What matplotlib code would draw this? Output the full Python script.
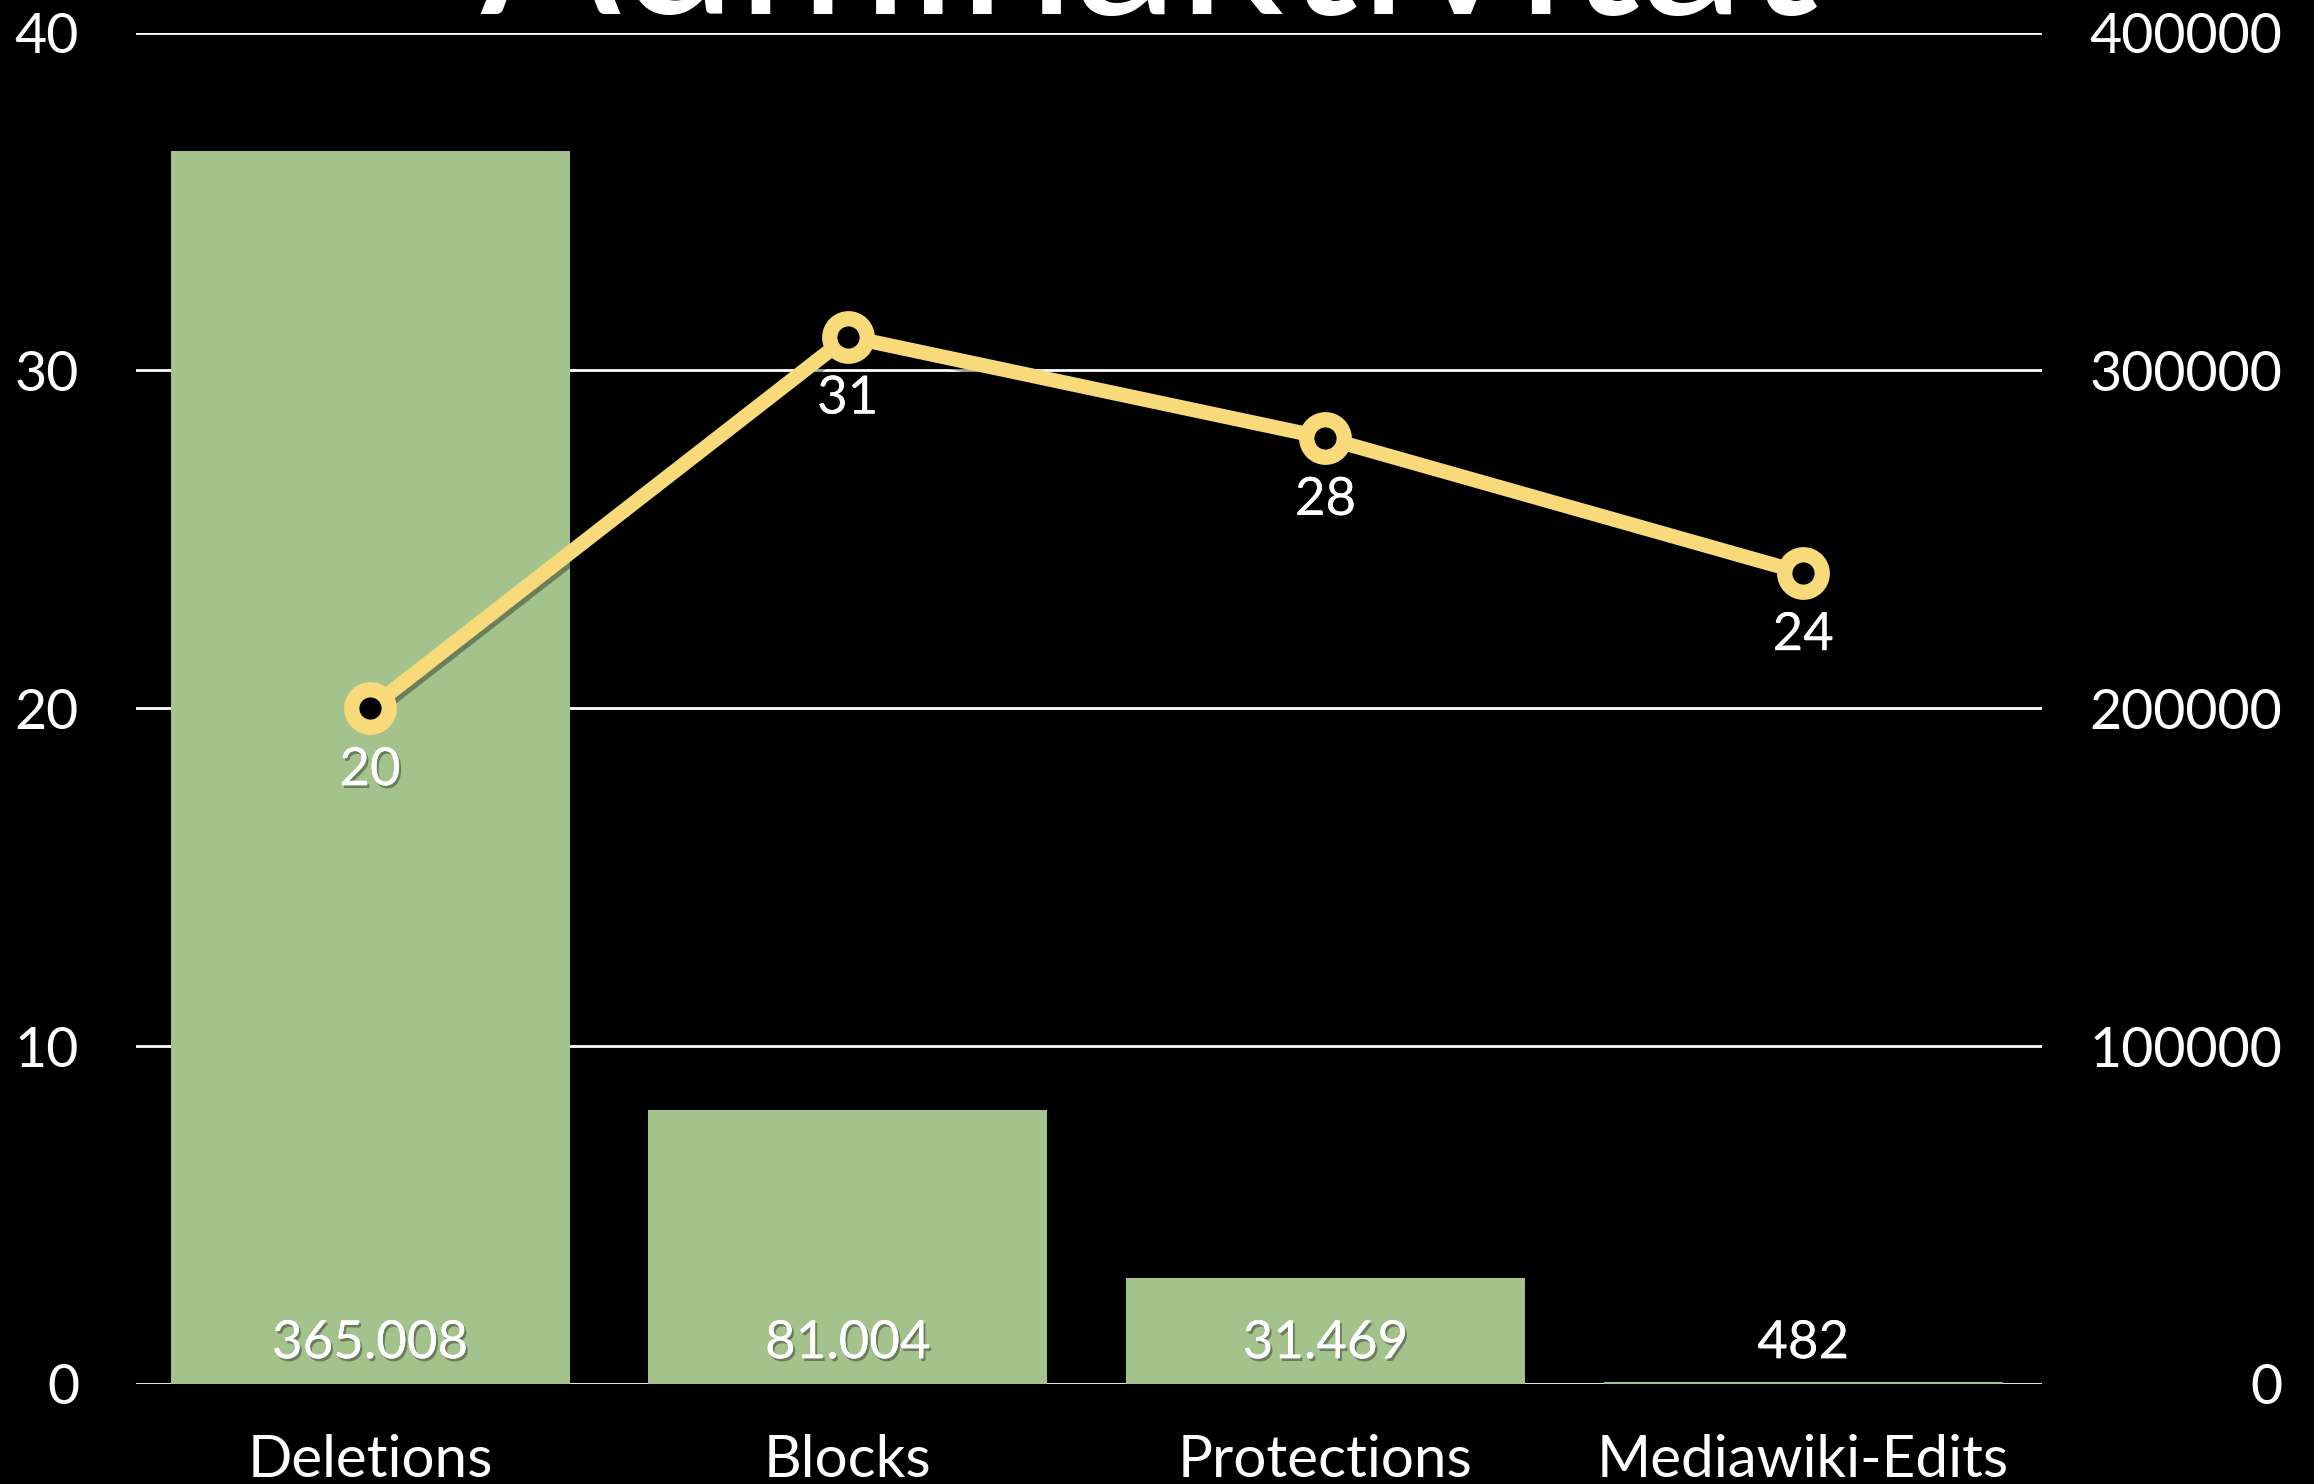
import matplotlib
matplotlib.use("Agg")
import matplotlib.pyplot as plt
import matplotlib.patheffects as pe

categories = ["Deletions", "Blocks", "Protections", "Mediawiki-Edits"]
bar_values = [365008, 81004, 31469, 482]
line_values = [20, 31, 28, 24]
left_ticks = [0, 10, 20, 30, 40]
right_ticks = [0, 100000, 200000, 300000, 400000]
title = "Adminaktivität"

BAR_COLOR = "#A4C28C"
LINE_COLOR = "#F8DA7A"
FONT = ["Lato", "DejaVu Sans"]
plt.rcParams["font.family"] = FONT

W, H = 2314, 1484
fig = plt.figure(figsize=(W / 100, H / 100), dpi=100, facecolor="black")
ax = fig.add_axes([136 / W, 1 - 1384 / H, (2042 - 136) / W, (1384 - 32.5) / H])
ax.set_facecolor("black")
ax2 = ax.twinx()

x = list(range(len(categories)))
lshadow = [pe.SimpleLineShadow(offset=(2, -3), shadow_color="black", alpha=0.35), pe.Normal()]
tshadow = [pe.withSimplePatchShadow(offset=(1.5, -2), shadow_rgbFace="black", alpha=0.35), pe.Normal()]

# bars on right axis
ax.bar(x, bar_values, width=0.835, color=BAR_COLOR, zorder=2)
ax.set_ylim(0, 400000)
ax.set_xlim(-0.49, 3.5)
ax.yaxis.tick_right()
ax.set_yticks(right_ticks)
ax.set_yticklabels([str(t) for t in right_ticks], ha="right")
ax.tick_params(axis="y", length=0, pad=173, labelsize=40, colors="white")
ax.set_xticks(x)
ax.set_xticklabels(categories)
ax.tick_params(axis="x", length=0, pad=36, labelsize=42, colors="white")
ax.grid(axis="y", color="white", linewidth=2, zorder=1)
ax.set_axisbelow(True)
for s in ax.spines.values():
    s.set_visible(False)

for xi, v in zip(x, bar_values):
    ax.annotate(f"{v:,}".replace(",", "."), xy=(xi, 0), xytext=(0, 29),
                textcoords="offset points", ha="center", va="center",
                fontsize=38, color="white", path_effects=tshadow, zorder=5)

# line on left axis
ax2.set_ylim(0, 40)
ax2.yaxis.tick_left()
ax2.set_yticks(left_ticks)
ax2.set_yticklabels([str(t) for t in left_ticks])
ax2.tick_params(axis="y", length=0, pad=41, labelsize=40, colors="white")
ax2.patch.set_visible(False)
for s in ax2.spines.values():
    s.set_visible(False)
ax2.plot(x, line_values, color=LINE_COLOR, linewidth=10.5, zorder=3, path_effects=lshadow)
ax2.plot(x, line_values, linestyle="none", marker="o",
         markersize=27, markerfacecolor="black", markeredgecolor=LINE_COLOR,
         markeredgewidth=11, zorder=4)
for xi, v in zip(x, line_values):
    ax2.annotate(str(v), xy=(xi, v), xytext=(0, -45), textcoords="offset points",
                 ha="center", va="center", fontsize=38, color="white",
                 path_effects=tshadow, zorder=5)

fig.text(1149 / W, 1 - 14 / H, title, ha="center", va="baseline",
         fontsize=150, color="white")

fig.savefig("out.png", dpi=100, facecolor="black")
